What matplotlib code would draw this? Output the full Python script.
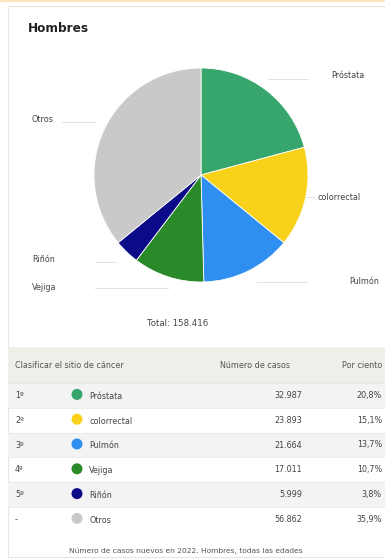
import matplotlib
matplotlib.use("Agg")
import matplotlib.pyplot as plt
from matplotlib.patches import Rectangle, Circle

# data
ranks = ["1º", "2º", "3º", "4º", "5º", "-"]
sites = ["Próstata", "colorrectal", "Pulmón", "Vejiga", "Riñón", "Otros"]
cases = [32987, 23893, 21664, 17011, 5999, 56862]
percents = ["20,8%", "15,1%", "13,7%", "10,7%", "3,8%", "35,9%"]
colors = ["#36a66c", "#f7d11a", "#2f8ff0", "#2a8a2a", "#0b0b8a", "#c9c9c9"]
total_label = "Total: 158.416"

W, H = 385, 559
fig = plt.figure(figsize=(W / 100, H / 100), dpi=100)
fig.patch.set_facecolor("white")

bg = fig.add_axes([0, 0, 1, 1])
bg.set_xlim(0, W)
bg.set_ylim(H, 0)
bg.axis("off")

# card border + faint top strip
bg.add_patch(Rectangle((8, 6), 380, 551, fill=False, edgecolor="#e6e6e6", lw=0.8))
bg.add_patch(Rectangle((0, 0), W, 2, color="#fbe6c0", lw=0))
bg.text(28, 29, "Hombres", fontsize=8.7, fontweight="bold", color="#222222", va="center")

# pie
cx, cy, r = 201, 175, 107
pax = fig.add_axes([(cx - r) / W, (H - cy - r) / H, 2 * r / W, 2 * r / H])
pax.pie(cases, colors=colors, startangle=90, counterclock=False, radius=1,
        wedgeprops=dict(edgecolor="white", linewidth=0.6))
pax.set_xlim(-1, 1)
pax.set_ylim(-1, 1)
pax.axis("off")

fs = 5.8
# pie labels with leader lines
lab_style = dict(fontsize=fs, color="#444444", va="center")
leaders = [
    ("Próstata", 331, 76, (268, 79, 308, 79)),
    ("colorrectal", 317, 197, (305, 197, 314, 197)),
    ("Pulmón", 349, 281, (257, 282, 307, 282)),
    ("Otros", 32, 120, (62, 122, 95, 122)),
    ("Riñón", 32, 259, (95, 262, 116, 262)),
    ("Vejiga", 32, 287, (95, 288, 168, 288)),
]
for name, tx, ty, (x0, y0, x1, y1) in leaders:
    bg.plot([x0, x1], [y0, y1], color="#dddddd", lw=0.6)
    bg.text(tx, ty, name, **lab_style)

bg.text(178, 323, total_label, fontsize=6.2, color="#444444", ha="center", va="center")

# table
top, hdr_h, row_h = 347, 36, 24.8
bg.add_patch(Rectangle((8, top), 380, hdr_h, color="#efeee8", lw=0))
hdr = dict(fontsize=fs, color="#555555", va="center")
bg.text(15, top + 18, "Clasificar el sitio de cáncer", **hdr)
bg.text(290, top + 18, "Número de casos", ha="right", **hdr)
bg.text(342, top + 18, "Por ciento", clip_on=True, **hdr)

for i, (rk, s, n, p, c) in enumerate(zip(ranks, sites, cases, percents, colors)):
    y0 = top + hdr_h + i * row_h
    if i % 2 == 0:
        bg.add_patch(Rectangle((8, y0), 380, row_h, color="#f3f3f3", lw=0))
    bg.plot([8, 388], [y0, y0], color="#e4e4e4", lw=0.5)
    ym = y0 + row_h / 2
    bg.text(15, ym, rk, fontsize=fs, color="#444444", va="center")
    bg.add_patch(Circle((77, ym - 1), 5.5, color=c, lw=0))
    bg.text(89, ym + 1, s, fontsize=fs, color="#444444", va="center")
    bg.text(302, ym, f"{n:,}".replace(",", "."), fontsize=fs, color="#444444",
            ha="right", va="center")
    bg.text(382, ym, p, fontsize=fs, color="#444444", ha="right", va="center")

bg.text(186, 551, "Número de casos nuevos en 2022. Hombres, todas las edades",
        fontsize=5.4, color="#555555", ha="center", va="center")

fig.savefig("out.png", dpi=100)
